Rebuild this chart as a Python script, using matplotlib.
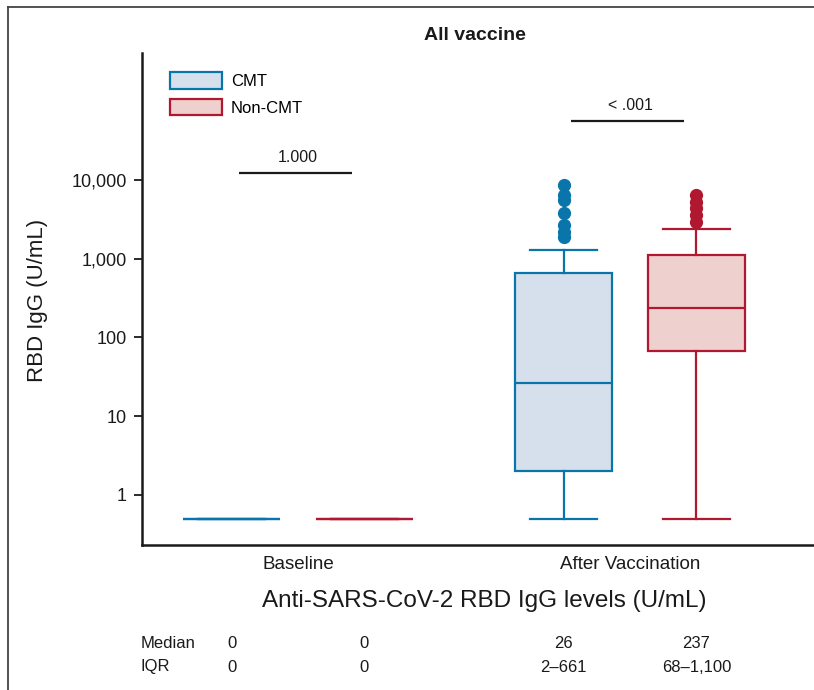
import matplotlib
matplotlib.use("Agg")
import matplotlib.pyplot as plt
import matplotlib.transforms as mtransforms
from matplotlib.lines import Line2D
from matplotlib.patches import Patch
from matplotlib.ticker import FixedLocator, NullLocator

plt.rcParams['font.family'] = ['Liberation Sans', 'DejaVu Sans']

# data (zeros are drawn at 0.5 on the log axis)
groups = ["Baseline", "After Vaccination"]
cohorts = ["CMT", "Non-CMT"]

cmt_med = [0.5, 26]
cmt_q1 = [0.5, 2]
cmt_q3 = [0.5, 661]
cmt_lo = [0.5, 0.5]
cmt_hi = [0.5, 1290]
cmt_fliers = [[], [8600, 6400, 5540, 3790, 2670, 2180, 1880]]

non_med = [0.5, 237]
non_q1 = [0.5, 68]
non_q3 = [0.5, 1100]
non_lo = [0.5, 0.5]
non_hi = [0.5, 2375]
non_fliers = [[], [6400, 5230, 4390, 3570, 2910]]

p_values = ["1.000", "< .001"]
p_bar_y = [12200, 55800]

yticks = [1, 10, 100, 1000, 10000]
ytick_labels = ["1", "10", "100", "1,000", "10,000"]

median_text = ["0", "0", "26", "237"]
iqr_text = ["0", "0", "2\u2013661", "68\u20131,100"]

edge = {"CMT": "#0a75aa", "Non-CMT": "#b0182f"}
face = {"CMT": "#d6e0ed", "Non-CMT": "#eed0ce"}
dark = "#1a1a1a"


def make_stats(med, q1, q3, lo, hi, fliers):
    out = []
    for i in range(len(med)):
        out.append({"med": med[i], "q1": q1[i], "q3": q3[i],
                    "whislo": lo[i], "whishi": hi[i], "fliers": fliers[i]})
    return out


fig = plt.figure(figsize=(8.14, 6.9), dpi=100)
W, H = 814, 690
ax = fig.add_axes([142 / W, 1 - 545 / H, 1 - 142 / W, (545 - 53) / H])

centers = [1, 2]
off = 0.2
box_w = 0.292
cap_w = 0.2

all_pos = []
for name, st in [("CMT", make_stats(cmt_med, cmt_q1, cmt_q3, cmt_lo, cmt_hi, cmt_fliers)),
                 ("Non-CMT", make_stats(non_med, non_q1, non_q3, non_lo, non_hi, non_fliers))]:
    sign = -1 if name == "CMT" else 1
    pos = [c + sign * off for c in centers]
    all_pos.append(pos)
    lw = 1.6
    ax.bxp(st, positions=pos, widths=box_w, capwidths=cap_w, patch_artist=True,
           manage_ticks=False,
           boxprops=dict(facecolor=face[name], edgecolor=edge[name], linewidth=lw),
           medianprops=dict(color=edge[name], linewidth=lw),
           whiskerprops=dict(color=edge[name], linewidth=lw),
           capprops=dict(color=edge[name], linewidth=lw),
           flierprops=dict(marker="o", markersize=8.5, markerfacecolor=edge[name],
                           markeredgecolor=edge[name]))

# significance bars
for i, c in enumerate(centers):
    ax.plot([c - 0.178, c + 0.162], [p_bar_y[i]] * 2, color=dark, lw=1.6,
            solid_capstyle="butt")
    ax.annotate(p_values[i], xy=(c, p_bar_y[i]), xytext=(0, 6),
                textcoords="offset points", ha="center", va="bottom",
                fontsize=11.5, color=dark)

ax.set_yscale("log")
ax.set_ylim(0.232, 406000)
ax.set_xlim(0.530, 2.554)
ax.yaxis.set_major_locator(FixedLocator(yticks))
ax.yaxis.set_minor_locator(NullLocator())
ax.set_yticklabels(ytick_labels)
ax.set_xticks(centers)
ax.set_xticklabels(groups, fontsize=13.5, color=dark)
ax.tick_params(axis="x", length=0, pad=8)
ax.tick_params(axis="y", length=6, width=1.3, labelsize=13, colors=dark, pad=5)

for s in ["top", "right"]:
    ax.spines[s].set_visible(False)
for s in ["left", "bottom"]:
    ax.spines[s].set_linewidth(1.8)
    ax.spines[s].set_color(dark)

handles = [Patch(facecolor=face[n], edgecolor=edge[n], linewidth=1.6, label=n)
           for n in cohorts]
fig.legend(handles=handles, loc="upper left", bbox_to_anchor=(170 / W, 1 - 72 / H),
           frameon=False, fontsize=12, handlelength=3.1, handleheight=1.15,
           labelspacing=0.6, handletextpad=0.55, borderpad=0, borderaxespad=0)

fig.text(475 / W, 1 - 35 / H, "All vaccine", ha="center", va="center",
         fontsize=14, fontweight="bold", color=dark)
fig.text(38 / W, 1 - 300 / H, "RBD IgG (U/mL)", rotation=90, ha="center",
         va="center", fontsize=16, color=dark)
fig.text(484 / W, 1 - 601 / H, "Anti-SARS-CoV-2 RBD IgG levels (U/mL)",
         ha="center", va="center", fontsize=17.5, color=dark)

# table under the plot
trans = mtransforms.blended_transform_factory(ax.transData, fig.transFigure)
flat_pos = [all_pos[0][0], all_pos[1][0], all_pos[0][1], all_pos[1][1]]
for label, vals, ypix in [("Median", median_text, 643), ("IQR", iqr_text, 667)]:
    fig.text(141 / W, 1 - ypix / H, label, ha="left", va="center",
             fontsize=12, color=dark)
    for x, v in zip(flat_pos, vals):
        ax.text(x, 1 - ypix / H, v, transform=trans, ha="center", va="center",
                fontsize=12, color=dark)

# outer frame (left and top edges)
fig.add_artist(Line2D([8 / W, 8 / W], [0, 1 - 7 / H], transform=fig.transFigure,
                      color="#444444", lw=1.3))
fig.add_artist(Line2D([8 / W, 1], [1 - 7 / H, 1 - 7 / H], transform=fig.transFigure,
                      color="#444444", lw=1.3))

fig.savefig("out.png", dpi=100)
